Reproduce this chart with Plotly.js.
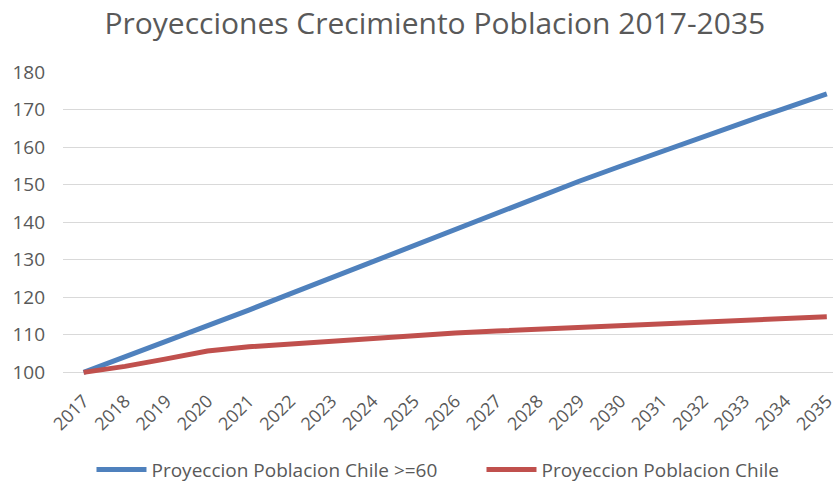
<!DOCTYPE html>
<html>
<head>
<meta charset="utf-8">
<script src="https://cdn.plot.ly/plotly-3.0.1.min.js"></script>
<style>html,body{margin:0;padding:0;background:#fff;}#chart{width:833px;height:485px;}</style>
</head>
<body>
<div id="chart"></div>
<script>
const years = [2017,2018,2019,2020,2021,2022,2023,2024,2025,2026,2027,2028,2029,2030,2031,2032,2033,2034,2035];
const mayores60 = [100,104.1,108.2,112.4,116.6,120.9,125.2,129.6,134.0,138.3,142.6,146.8,150.9,154.9,158.9,162.8,166.6,170.4,174.2];
const poblacionTotal = [100,101.6,103.6,105.7,106.8,107.6,108.2,109.0,109.8,110.5,111.0,111.5,112.0,112.6,113.0,113.5,113.9,114.5,114.8];
const seriesNames = ['Proyeccion Poblacion Chile >=60','Proyeccion Poblacion Chile'];
const titleText = 'Proyecciones Crecimiento Poblacion 2017-2035';

const font = 'Open Sans, Liberation Sans, sans-serif';
const grey = '#595959';

const traces = [
  {x: years, y: mayores60, name: seriesNames[0], type: 'scatter', mode: 'lines',
   line: {color: '#4F81BD', width: 5}, legend: 'legend'},
  {x: years, y: poblacionTotal, name: seriesNames[1], type: 'scatter', mode: 'lines',
   line: {color: '#C0504D', width: 5}, legend: 'legend2'}
];

const legendBase = {orientation: 'h', xanchor: 'left', y: -0.312, yanchor: 'middle',
  bgcolor: 'rgba(0,0,0,0)', font: {family: font, size: 19, color: grey}, itemwidth: 50};

const layout = {
  width: 833, height: 485,
  margin: {l: 63, r: 0, t: 72, b: 110, autoexpand: false},
  paper_bgcolor: '#fff', plot_bgcolor: '#fff',
  title: {text: titleText, font: {family: font, size: 30, color: grey}, x: 0.522, xanchor: 'center', y: 0.952, yanchor: 'middle'},
  xaxis: {
    type: 'linear', range: [2016.5, 2035.15], tickmode: 'array', tickvals: years,
    ticktext: years.map(String), tickangle: -45, showgrid: false, zeroline: false,
    showline: false, ticks: '', ticklabelstandoff: 11, ticklabeloverflow: 'allow',
    tickfont: {family: font, size: 18, color: grey}
  },
  yaxis: {
    range: [99.3, 180], tick0: 100, dtick: 10, showgrid: true, gridcolor: '#d9d9d9', gridwidth: 1,
    zeroline: false, showline: false, ticks: '', ticklabelstandoff: 17,
    tickfont: {family: font, size: 19, color: grey}
  },
  showlegend: true,
  legend: Object.assign({}, legendBase, {x: 0.037}),
  legend2: Object.assign({}, legendBase, {x: 0.5435}),
};

Plotly.newPlot('chart', traces, layout, {displayModeBar: false, staticPlot: true});
</script>
</body>
</html>
